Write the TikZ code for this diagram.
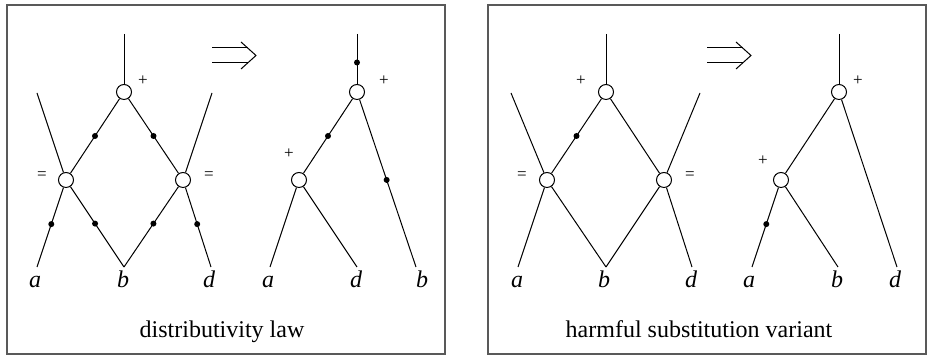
\documentclass[tikz,border=0pt]{standalone}
\usepackage{fontspec}
\setmainfont{Liberation Serif}
\usetikzlibrary{arrows.meta,positioning,calc}

\begin{document}
\begin{tikzpicture}[
  x=0.5pt, y=-0.5pt,
  line width=0.5pt,
  gate/.style={circle, draw, fill=white, minimum size=7.5pt, inner sep=0pt},
  dot/.style={circle, fill=black, minimum size=3pt, inner sep=0pt},
  op/.style={font=\fontsize{8.5}{10}\selectfont, inner sep=0pt},
  var/.style={font=\fontsize{12}{14}\selectfont\itshape, inner sep=0pt, anchor=base},
  caption/.style={font=\fontsize{12}{14}\selectfont, inner sep=0pt, anchor=base},
  panel/.style={draw=black!65, line width=0.6pt},
]
\useasboundingbox (0,0) rectangle (928,356);

% Frames
\draw[panel] (7,5) rectangle (445,354);
\draw[panel] (488,5) rectangle (926,354);

% Left panel: before
\node[gate] at (124,92) (dtop) {};
\node[gate] at (66,180) (dleft) {};
\node[gate] at (183,180) (dright) {};
\coordinate (din) at (124,34);
\coordinate (dinl) at (37,93);
\coordinate (dinr) at (212,93);
\coordinate (da) at (37,267);
\coordinate (db) at (124,267);
\coordinate (dd) at (211,267);
\draw (din) -- (dtop);
\draw (dinl) -- (dleft);
\draw (dinr) -- (dright);
\draw (dtop) -- node[dot] (dt1) {} (dleft);
\draw (dtop) -- node[dot] (dt2) {} (dright);
\draw (dleft) -- node[dot, pos=.46] (dl1) {} (da);
\draw (dleft) -- node[dot, pos=.46] (dl2) {} (db);
\draw (dright) -- node[dot, pos=.46] (dr1) {} (db);
\draw (dright) -- node[dot, pos=.46] (dr2) {} (dd);
\node[op] at (143,81) (dplus) {+};
\node[op] at (42,176) (deql) {=};
\node[op] at (209,176) (deqr) {=};
\node[var] at ([xshift=-1pt,yshift=-10.5pt]da) (dla) {a};
\node[var] at ([xshift=-0.5pt,yshift=-10.5pt]db) (dlb) {b};
\node[var] at ([xshift=-1pt,yshift=-10.5pt]dd) (dld) {d};

% Left panel: after
\node[gate] at (357,92) (etop) {};
\node[gate] at (299,180) (eleft) {};
\coordinate (ein) at (357,34);
\coordinate (ea) at (270,267);
\coordinate (ed) at (357,267);
\coordinate (eb) at (416,267);
\draw (ein) -- node[dot, pos=.57] (ei1) {} (etop);
\draw (etop) -- node[dot] (et1) {} (eleft);
\draw (etop) -- node[dot, pos=.48] (et2) {} (eb);
\draw (eleft) -- (ea);
\draw (eleft) -- (ed);
\node[op] at (384,81) (eplus1) {+};
\node[op] at (289,154) (eplus2) {+};
\node[var] at ([xshift=-1pt,yshift=-10.5pt]ea) (ela) {a};
\node[var] at ([xshift=-0.5pt,yshift=-10.5pt]ed) (eld) {d};
\node[var] at ([xshift=3pt,yshift=-10.5pt]eb) (elb) {b};

% Left panel: rewrite arrow and caption
\coordinate (arl) at (212,55.5);
\draw (arl) ++(0,-7.5) -- ++(36,0) (arl) ++(0,7.5) -- ++(36,0);
\draw (arl) ++(29,-13.5) -- ++(15,13.5) -- ++(-15,13.5);
\node[caption] at (222,338) (capl) {distributivity law};

% Right panel: before
\node[gate] at (606,92) (ftop) {};
\node[gate] at (547,180) (fleft) {};
\node[gate] at (664,180) (fright) {};
\coordinate (fin) at (606,34);
\coordinate (finl) at (511,93);
\coordinate (finr) at (700,93);
\coordinate (fa) at (518,267);
\coordinate (fb) at (606,267);
\coordinate (fd) at (692,267);
\draw (fin) -- (ftop);
\draw (finl) -- (fleft);
\draw (finr) -- (fright);
\draw (ftop) -- node[dot] (ft1) {} (fleft);
\draw (ftop) -- (fright);
\draw (fleft) -- (fa);
\draw (fleft) -- (fb);
\draw (fright) -- (fb);
\draw (fright) -- (fd);
\node[op] at (581,81) (fplus) {+};
\node[op] at (522,176) (feql) {=};
\node[op] at (690,176) (feqr) {=};
\node[var] at ([xshift=-0.5pt,yshift=-10.5pt]fa) (fla) {a};
\node[var] at ([xshift=-1pt,yshift=-10.5pt]fb) (flb) {b};
\node[var] at ([xshift=-0.5pt,yshift=-10.5pt]fd) (fld) {d};

% Right panel: after
\node[gate] at (839,92) (gtop) {};
\node[gate] at (781,180) (gleft) {};
\coordinate (gin) at (839,34);
\coordinate (ga) at (752,267);
\coordinate (gb) at (838,267);
\coordinate (gd) at (897,267);
\draw (gin) -- (gtop);
\draw (gtop) -- (gleft);
\draw (gtop) -- (gd);
\draw (gleft) -- node[dot, pos=.46] (gl1) {} (ga);
\draw (gleft) -- (gb);
\node[op] at (858,81) (gplus1) {+};
\node[op] at (763,161) (gplus2) {+};
\node[var] at ([xshift=-1.5pt,yshift=-10.5pt]ga) (gla) {a};
\node[var] at ([xshift=-0.5pt,yshift=-10.5pt]gb) (glb) {b};
\node[var] at ([xshift=-1pt,yshift=-10.5pt]gd) (gld) {d};

% Right panel: rewrite arrow and caption
\coordinate (arr) at (707,55.5);
\draw (arr) ++(0,-7.5) -- ++(36,0) (arr) ++(0,7.5) -- ++(36,0);
\draw (arr) ++(29,-13.5) -- ++(15,13.5) -- ++(-15,13.5);
\node[caption] at (699,338) (capr) {harmful substitution variant};

\end{tikzpicture}
\end{document}
